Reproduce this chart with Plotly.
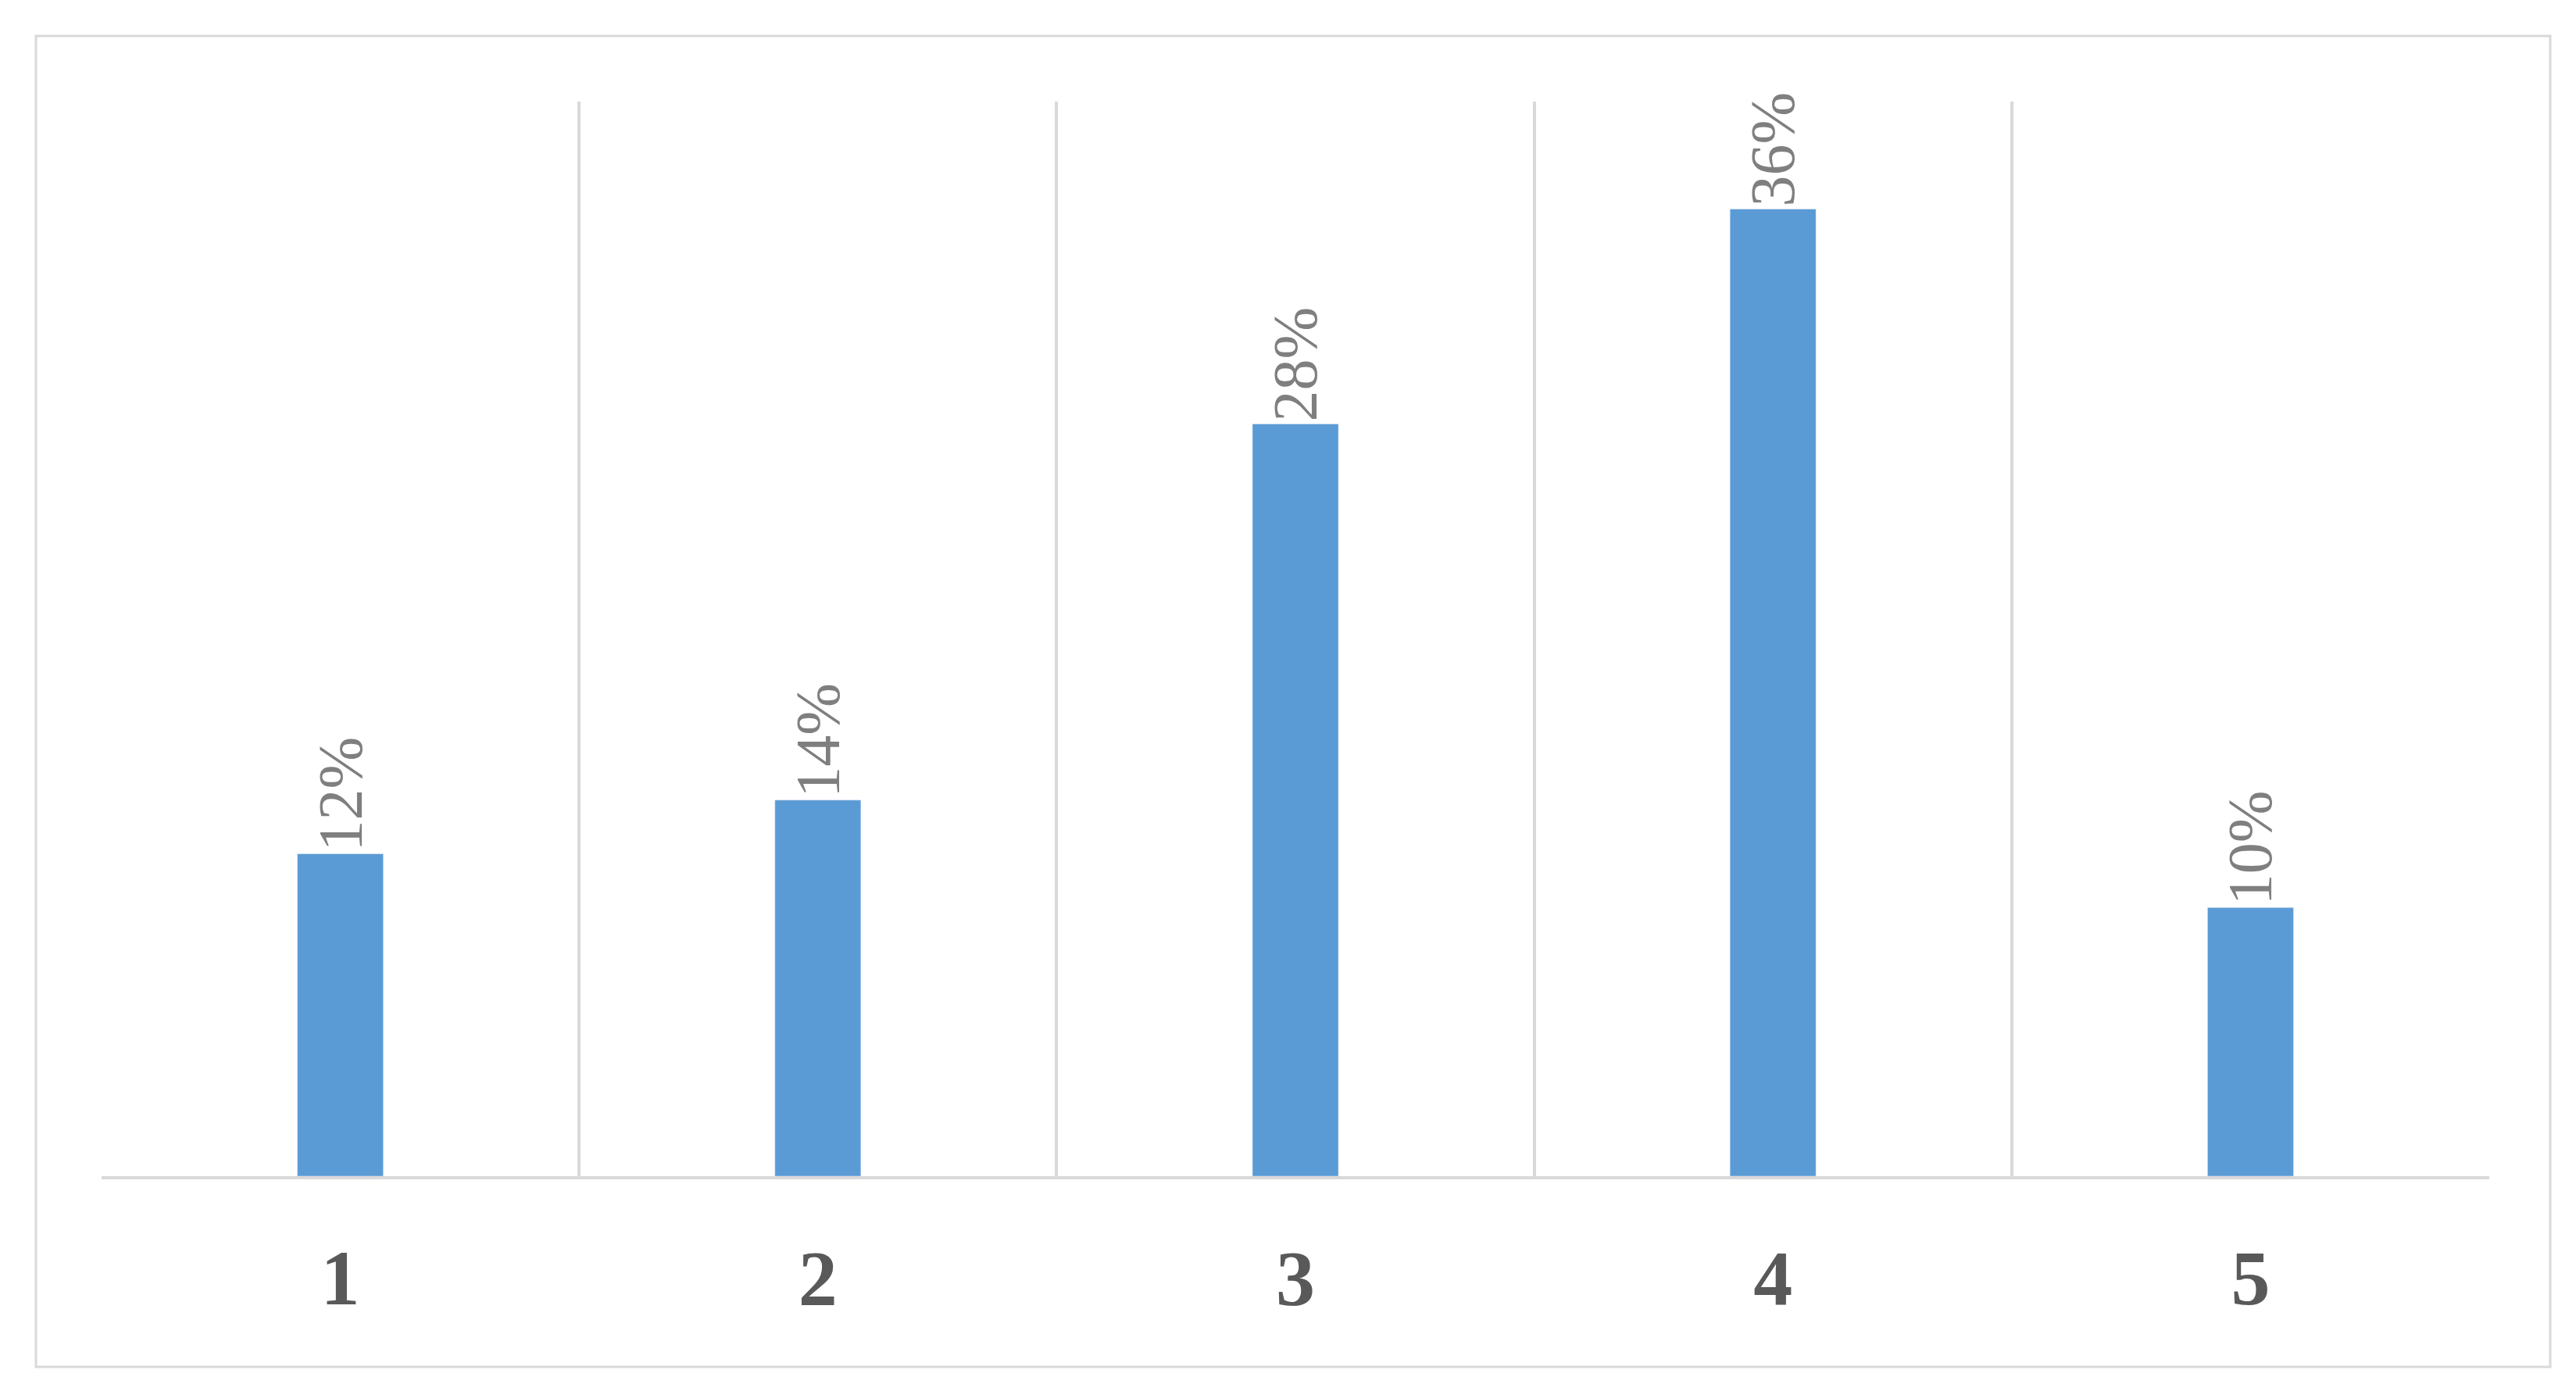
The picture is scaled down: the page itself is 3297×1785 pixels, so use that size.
import plotly.graph_objects as go

categories = [1, 2, 3, 4, 5]
values = [12, 14, 28, 36, 10]
labels = ["12%", "14%", "28%", "36%", "10%"]
boundaries = [0.5, 1.5, 2.5, 3.5, 4.5, 5.5]

W, H = 3297, 1785
L, R, T, B = 122, 119, 122, 288
pw, ph = W - L - R, H - T - B

fig = go.Figure(go.Bar(
    x=categories, y=values, text=labels, textposition="outside",
    textangle=-90, width=0.18, marker_color="#5b9bd5", cliponaxis=False,
    constraintext="none",
    textfont=dict(family="Liberation Serif", size=80, color="#7f7f7f"),
))
fig.update_layout(
    width=W, height=H, margin=dict(l=L, r=R, t=T, b=B),
    paper_bgcolor="white", plot_bgcolor="white", showlegend=False,
    xaxis=dict(range=[0.5, 5.5], tickvals=categories, showgrid=False,
               showline=True, linecolor="#d9d9d9", linewidth=4, ticks="",
               ticklabelstandoff=40,
               tickfont=dict(family="Liberation Serif", size=100, color="#595959", weight="bold"),
               minor=dict(tickvals=boundaries, showgrid=True, gridcolor="#d9d9d9", gridwidth=4),
               zeroline=False),
    yaxis=dict(range=[0, 40], visible=False, showgrid=False),
    shapes=[dict(type="rect", xref="paper", yref="paper",
                 x0=(38 - L) / pw, x1=(3256 - L) / pw,
                 y0=(H - B - 1741) / ph, y1=(H - B - 38) / ph,
                 line=dict(color="#d9d9d9", width=3))],
)
fig.write_html("out.html")
